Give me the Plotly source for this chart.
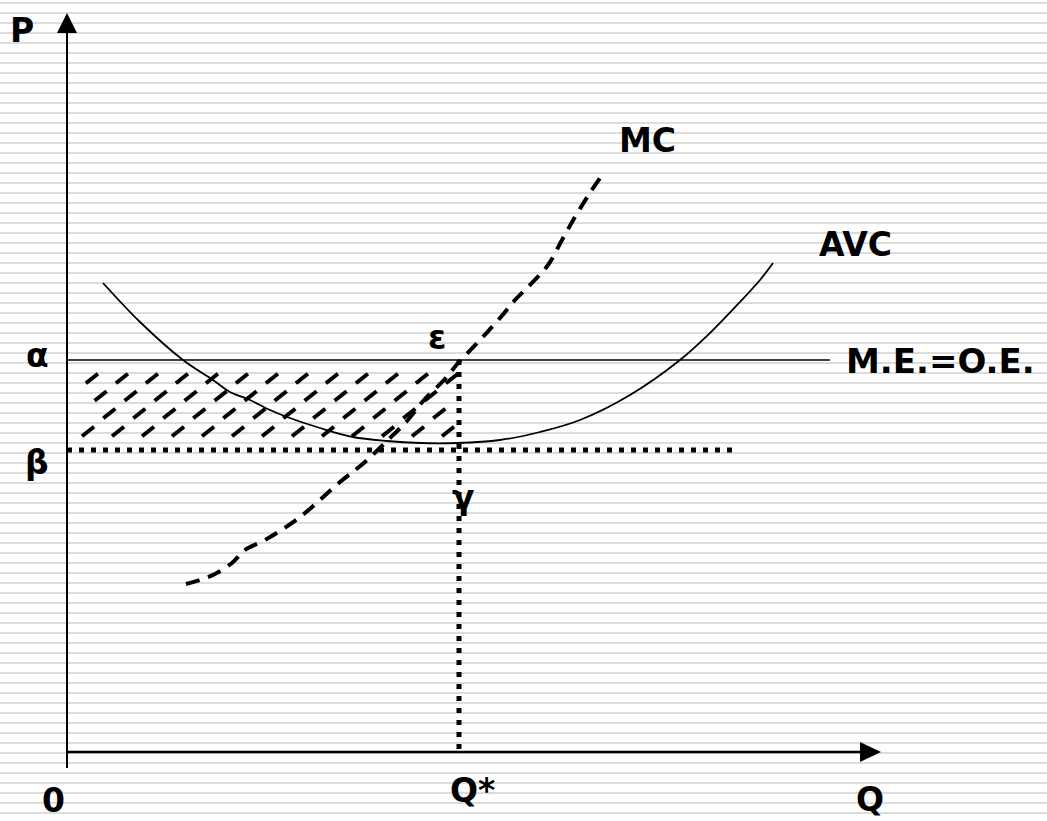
import plotly.graph_objects as go

# ---- data (chart units: Q to the right, P upward) ----
avc_q = [36, 73, 116, 146, 163, 183, 203, 220, 253, 286, 320, 353, 390, 433, 473, 513, 563, 613, 643, 673, 693, 706]
avc_p = [469, 430, 392, 372, 360, 352, 342, 335, 324, 315, 311, 309, 309, 312, 320, 332, 357, 392, 419, 450, 472, 489]

mc_q = [119, 133, 148, 165, 178, 198, 233, 273, 298, 321, 340, 357, 377, 392, 413, 433, 448, 463, 481, 495, 508, 521, 533]
mc_p = [168, 172, 178, 189, 202, 212, 235, 270, 290, 312, 331, 352, 372, 390, 412, 434, 452, 467, 487, 512, 535, 556, 574]

alpha_p = 392      # market price (M.E.=O.E.)
beta_p = 302       # minimum AVC
q_star = 392       # equilibrium quantity
alpha_end_q = 763
beta_end_q = 666
q_axis_end = 814
p_axis_end = 739

# hatch parameters (shaded loss area between beta and alpha)
hatch_rows_p = [320.5, 338.5, 356, 373.5]
hatch_spacing = 30
hatch_row_shift = 21.3
hatch_first_q = 21
hatch_q_min = 13
hatch_q_max = 385

labels = [
    ("P", -45, 722), ("MC", 580, 612), ("AVC", 788, 508), ("α", -30, 397),
    ("ε", 370, 415), ("M.E.=O.E.", 873, 391), ("β", -30, 290), ("γ", 396, 255),
    ("0", -14, -48), ("Q*", 405, -38), ("Q", 803, -47),
]

fig = go.Figure()

# hatch dashes
hx, hy = [], []
half_dx, half_dy = 6.0, 4.8
for k in range(-6, 16):
    for r, py in enumerate(hatch_rows_p):
        cx = hatch_first_q + hatch_spacing * k + hatch_row_shift * r
        if hatch_q_min <= cx <= hatch_q_max:
            hx += [cx - half_dx, cx + half_dx, None]
            hy += [py - half_dy, py + half_dy, None]
fig.add_trace(go.Scatter(x=hx, y=hy, mode="lines", line=dict(color="black", width=4),
                         hoverinfo="skip", showlegend=False))

# alpha price line
fig.add_trace(go.Scatter(x=[0, alpha_end_q], y=[alpha_p, alpha_p], mode="lines",
                         line=dict(color="black", width=1.6), showlegend=False))
# beta dotted line
fig.add_trace(go.Scatter(x=[0, beta_end_q], y=[beta_p, beta_p], mode="lines",
                         line=dict(color="black", width=5, dash="5px,7px"), showlegend=False))
# Q* dotted vertical
fig.add_trace(go.Scatter(x=[q_star, q_star], y=[alpha_p, 0], mode="lines",
                         line=dict(color="black", width=5, dash="5px,7px"), showlegend=False))
# AVC
fig.add_trace(go.Scatter(x=avc_q, y=avc_p, mode="lines", line=dict(color="black", width=1.8, shape="spline"),
                         showlegend=False))
# MC
fig.add_trace(go.Scatter(x=mc_q, y=mc_p, mode="lines", line=dict(color="black", width=4, dash="14px,9px", shape="spline"),
                         showlegend=False))

# axes
fig.add_trace(go.Scatter(x=[0, 0], y=[-16, p_axis_end - 20], mode="lines",
                         line=dict(color="black", width=2), showlegend=False))
fig.add_trace(go.Scatter(x=[0, q_axis_end - 20], y=[0, 0], mode="lines",
                         line=dict(color="black", width=2.5), showlegend=False))
shapes = [
    dict(type="path", path=f"M -10 {p_axis_end-20} L 10 {p_axis_end-20} L 0 {p_axis_end} Z",
         fillcolor="black", line=dict(width=0), xref="x", yref="y"),
    dict(type="path", path=f"M {q_axis_end-21} 10 L {q_axis_end-21} -10 L {q_axis_end} 0 Z",
         fillcolor="black", line=dict(width=0), xref="x", yref="y"),
]

annotations = [dict(x=x, y=y, text=t, showarrow=False, xanchor="center", yanchor="middle",
                    font=dict(family="DejaVu Sans", size=33 if t != "M.E.=O.E." else 34,
                              color="black", weight="bold"))
               for t, x, y in labels]

fig.update_layout(
    width=1047, height=821, margin=dict(l=0, r=0, t=0, b=0),
    paper_bgcolor="white", plot_bgcolor="white",
    xaxis=dict(range=[-67, 980], showgrid=False, zeroline=False, showticklabels=False, fixedrange=True),
    yaxis=dict(range=[-69, 752], showgrid=True, gridcolor="#dcdcdc", gridwidth=1.6, tick0=9, dtick=10,
               zeroline=False, showticklabels=False, ticks="", fixedrange=True),
    shapes=shapes, annotations=annotations, showlegend=False,
)

fig.write_html("out.html", config={"displayModeBar": False},
               post_script="document.body.style.margin='0';")
